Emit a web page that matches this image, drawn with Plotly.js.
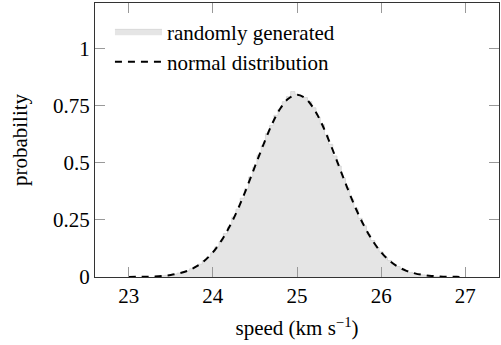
<!DOCTYPE html>
<html>
<head>
<meta charset="utf-8">
<script src="https://cdn.plot.ly/plotly-3.0.1.min.js"></script>
<style>html,body{margin:0;padding:0;background:#fff;}#chart{width:501px;height:345px;}</style>
</head>
<body>
<div id="chart"></div>
<script>
// histogram (randomly generated), bin centres and heights
const histX = [23.3,23.35,23.4,23.45,23.5,23.55,23.6,23.65,23.7,23.75,23.8,23.85,23.9,23.95,
  24.0,24.05,24.1,24.15,24.2,24.25,24.3,24.35,24.4,24.45,24.5,24.55,24.6,24.65,24.7,24.75,24.8,24.85,24.9,24.95,
  25.0,25.05,25.1,25.15,25.2,25.25,25.3,25.35,25.4,25.45,25.5,25.55,25.6,25.65,25.7,25.75,25.8,25.85,25.9,25.95,
  26.0,26.05,26.1,26.15,26.2,26.25,26.3,26.35,26.4,26.45,26.5,26.55,26.6,26.65,26.7];
const histY = [0.002,0.003,0.005,0.007,0.009,0.012,0.017,0.020,0.027,0.036,0.045,0.056,0.072,0.087,
  0.106,0.133,0.156,0.190,0.219,0.262,0.297,0.345,0.386,0.438,0.481,0.534,0.575,0.628,0.664,0.708,0.735,0.768,0.790,0.812,
  0.800,0.789,0.786,0.768,0.741,0.700,0.668,0.622,0.581,0.530,0.486,0.433,0.390,0.340,0.301,0.257,0.224,0.186,0.160,0.129,
  0.110,0.086,0.072,0.055,0.046,0.034,0.028,0.020,0.016,0.012,0.009,0.006,0.005,0.003,0.002];

// normal distribution curve
const curveX = [23.0,23.1,23.2,23.3,23.4,23.5,23.6,23.7,23.8,23.9,
  24.0,24.1,24.2,24.3,24.4,24.5,24.6,24.7,24.8,24.9,
  25.0,25.1,25.2,25.3,25.4,25.5,25.6,25.7,25.8,25.9,
  26.0,26.1,26.2,26.3,26.4,26.5,26.6,26.7,26.8,26.9,27.0];
const curveY = [0.0003,0.0006,0.0012,0.0025,0.0048,0.0089,0.016,0.027,0.045,0.071,
  0.108,0.158,0.222,0.299,0.388,0.484,0.579,0.667,0.737,0.782,
  0.798,0.782,0.737,0.667,0.579,0.484,0.388,0.299,0.222,0.158,
  0.108,0.071,0.045,0.027,0.016,0.0089,0.0048,0.0025,0.0012,0.0006,0.0003];

const xTickVals = [23,24,25,26,27];
const yTickVals = [0,0.25,0.5,0.75,1];
const yTickText = ['0','0.25','0.5','0.75','1'];

const FAM = 'Liberation Serif';
const FS = 21;

const traces = [
  {x: histX, y: histY, type: 'scatter', mode: 'lines', line: {shape: 'hvh', color: '#d8d8d8', width: 1},
   fill: 'tozeroy', fillcolor: '#e5e5e5', name: 'randomly generated'},
  {x: curveX, y: curveY, type: 'scatter', mode: 'lines', line: {shape: 'spline', color: '#000', width: 2, dash: '7px,6px'},
   name: 'normal distribution'}
];

function axisBase() {
  return {
    showgrid: false, zeroline: false, showline: true, linecolor: '#333', linewidth: 1,
    mirror: 'ticks', ticks: 'inside', ticklen: 10, tickcolor: '#999', tickwidth: 1,
    tickfont: {family: FAM, size: FS, color: '#000'}
  };
}

const layout = {
  width: 501, height: 345,
  margin: {l: 95, r: 2, t: 3, b: 68},
  paper_bgcolor: '#fff', plot_bgcolor: '#fff',
  font: {family: FAM, size: FS, color: '#000'},
  showlegend: true,
  legend: {x: 0.037, y: 0.97, xanchor: 'left', yanchor: 'top', bgcolor: 'rgba(255,255,255,0)',
           font: {family: FAM, size: FS, color: '#000'}, itemwidth: 47, tracegroupgap: 0},
  xaxis: Object.assign(axisBase(), {range: [22.6, 27.4], tickvals: xTickVals,
    title: {text: 'speed (km s<sup>−1</sup>)', font: {family: FAM, size: FS, color: '#000'}, standoff: 13}}),
  yaxis: Object.assign(axisBase(), {range: [0, 1.2], tickvals: yTickVals, ticktext: yTickText,
    title: {text: 'probability', font: {family: FAM, size: FS, color: '#000'}, standoff: 19}})
};

Plotly.newPlot('chart', traces, layout, {staticPlot: true, displayModeBar: false});
</script>
</body>
</html>
